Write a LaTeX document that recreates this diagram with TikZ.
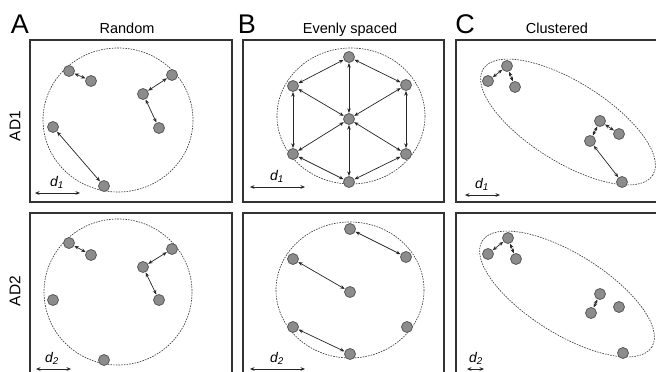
\documentclass[tikz,border=0pt]{standalone}
\usepackage{fontspec}
\setmainfont{Liberation Sans}
\usetikzlibrary{arrows.meta}
\tikzset{
  panel/.style={draw=black!80, line width=1.3pt},
  region/.style={draw=black!75, dashed, dash pattern=on 1.6pt off 1.1pt, line width=0.65pt},
  dot/.style={circle, fill=black!45, draw=black!65, line width=0.8pt, minimum size=11pt, inner sep=0pt},
  link/.style={draw=black!85, line width=0.7pt, {Stealth[length=4.5pt,width=3.6pt]}-{Stealth[length=4.5pt,width=3.6pt]}, shorten <=0.2pt, shorten >=0.2pt},
  scalebar/.style={draw=black!85, line width=0.8pt, {Stealth[length=4.5pt,width=3.8pt]}-{Stealth[length=4.5pt,width=3.8pt]}},
  letter/.style={font=\fontsize{27}{27}\selectfont, anchor=base},
  title/.style={font=\fontsize{14.5}{14.5}\selectfont, anchor=base},
  rowlab/.style={font=\fontsize{15.5}{15.5}\selectfont, rotate=90},
  dlab/.style={font=\fontsize{14}{14}\selectfont\itshape, anchor=base}
}
\begin{document}
\begin{tikzpicture}[x=1pt,y=-1pt]
\useasboundingbox (0,0) rectangle (656,372);
\clip (0,0) rectangle (656,372);
\fill[white] (0,0) rectangle (656,372);

% headers
\node[letter] (LA) at (20,33) {A};
\node[letter] (LB) at (247,33) {B};
\node[letter] (LC) at (465,33) {C};
\node[title] (TA) at (127,34) {Random};
\node[title] (TB) at (350,34) {Evenly spaced};
\node[title] (TC) at (557,34) {Clustered};
\node[rowlab] (R1) at (15,126) {AD1};
\node[rowlab] (R2) at (15,291) {AD2};

% panels
\draw[panel] (30,40) rectangle (232,202);
\draw[panel] (243,40) rectangle (444,202);
\draw[panel] (456,40) rectangle (680,202);
\draw[panel] (30,213) rectangle (232,390);
\draw[panel] (243,213) rectangle (444,390);
\draw[panel] (456,213) rectangle (680,390);

% ---------- A top ----------
\draw[region] (118,120) ellipse [x radius=75, y radius=72];
\node[dot] (a1) at (69,71) {};
\node[dot] (a2) at (91,81) {};
\node[dot] (a3) at (172,75) {};
\node[dot] (a4) at (143,94) {};
\node[dot] (a5) at (159,128) {};
\node[dot] (a6) at (53,127) {};
\node[dot] (a7) at (104,186) {};
\draw[link] (a1) -- (a2);
\draw[link] (a3) -- (a4);
\draw[link] (a4) -- (a5);
\draw[link] (a6) -- (a7);
\coordinate (ad1l) at (35,193);
\coordinate (ad1r) at (80,193);
\draw[scalebar] (ad1l) -- (ad1r);
\node[dlab] (ad1) at (57,186) {d\textsubscript{1}};

% ---------- A bottom ----------
\draw[region] (118,292) ellipse [x radius=74, y radius=73];
\node[dot] (b1) at (69,243) {};
\node[dot] (b2) at (91,255) {};
\node[dot] (b3) at (172,249) {};
\node[dot] (b4) at (143,267) {};
\node[dot] (b5) at (159,300) {};
\node[dot] (b6) at (53,300) {};
\node[dot] (b7) at (104,360) {};
\draw[link] (b1) -- (b2);
\draw[link] (b3) -- (b4);
\draw[link] (b4) -- (b5);
\coordinate (ad2l) at (36,369);
\coordinate (ad2r) at (71,369);
\draw[scalebar] (ad2l) -- (ad2r);
\node[dlab] (ad2) at (52,362) {d\textsubscript{2}};

% ---------- B top ----------
\draw[region] (351,116) ellipse [x radius=74, y radius=68];
\node[dot] (ct) at (349,57) {};
\node[dot] (cul) at (293,86) {};
\node[dot] (cur) at (406,85) {};
\node[dot] (cc) at (349,119) {};
\node[dot] (cll) at (293,154) {};
\node[dot] (clr) at (406,154) {};
\node[dot] (cb) at (349,182) {};
\draw[link] (ct) -- (cul);
\draw[link] (ct) -- (cur);
\draw[link] (ct) -- (cc);
\draw[link] (cul) -- (cc);
\draw[link] (cur) -- (cc);
\draw[link] (cul) -- (cll);
\draw[link] (cur) -- (clr);
\draw[link] (cll) -- (cc);
\draw[link] (clr) -- (cc);
\draw[link] (cll) -- (cb);
\draw[link] (clr) -- (cb);
\draw[link] (cc) -- (cb);
\coordinate (bd1l) at (250,187);
\coordinate (bd1r) at (305,187);
\draw[scalebar] (bd1l) -- (bd1r);
\node[dlab] (bd1) at (277,180) {d\textsubscript{1}};

% ---------- B bottom ----------
\draw[region] (350,290) ellipse [x radius=74, y radius=68];
\node[dot] (dt) at (350,229) {};
\node[dot] (dul) at (293,259) {};
\node[dot] (dur) at (406,257) {};
\node[dot] (dc) at (350,292) {};
\node[dot] (dll) at (293,327) {};
\node[dot] (dlr) at (407,327) {};
\node[dot] (db) at (350,354) {};
\draw[link] (dt) -- (dur);
\draw[link] (dul) -- (dc);
\draw[link] (dll) -- (db);
\coordinate (bd2l) at (250,369);
\coordinate (bd2r) at (305,369);
\draw[scalebar] (bd2l) -- (bd2r);
\node[dlab] (bd2) at (277,362) {d\textsubscript{2}};

% ---------- C top ----------
\draw[region] (568,122) ellipse [x radius=100, y radius=40, rotate=-32];
\node[dot] (e1) at (507,66) {};
\node[dot] (e2) at (488,81) {};
\node[dot] (e3) at (515,87) {};
\node[dot] (e4) at (600,121) {};
\node[dot] (e5) at (619,134) {};
\node[dot] (e6) at (590,141) {};
\node[dot] (e7) at (622,182) {};
\draw[link] (e1) -- (e2);
\draw[link] (e1) -- (e3);
\draw[link] (e4) -- (e5);
\draw[link] (e4) -- (e6);
\draw[link] (e6) -- (e7);
\coordinate (cd1l) at (465,195);
\coordinate (cd1r) at (500,195);
\draw[scalebar] (cd1l) -- (cd1r);
\node[dlab] (cd1) at (482,188) {d\textsubscript{1}};

% ---------- C bottom ----------
\draw[region] (567,294) ellipse [x radius=100, y radius=40, rotate=-32];
\node[dot] (f1) at (508,238) {};
\node[dot] (f2) at (488,254) {};
\node[dot] (f3) at (516,259) {};
\node[dot] (f4) at (600,294) {};
\node[dot] (f5) at (619,307) {};
\node[dot] (f6) at (591,313) {};
\node[dot] (f7) at (623,353) {};
\draw[link] (f1) -- (f2);
\draw[link] (f1) -- (f3);
\draw[link] (f4) -- (f6);
\coordinate (cd2l) at (467,369);
\coordinate (cd2r) at (484,369);
\draw[scalebar] (cd2l) -- (cd2r);
\node[dlab] (cd2) at (476,362) {d\textsubscript{2}};
\end{tikzpicture}
\end{document}
